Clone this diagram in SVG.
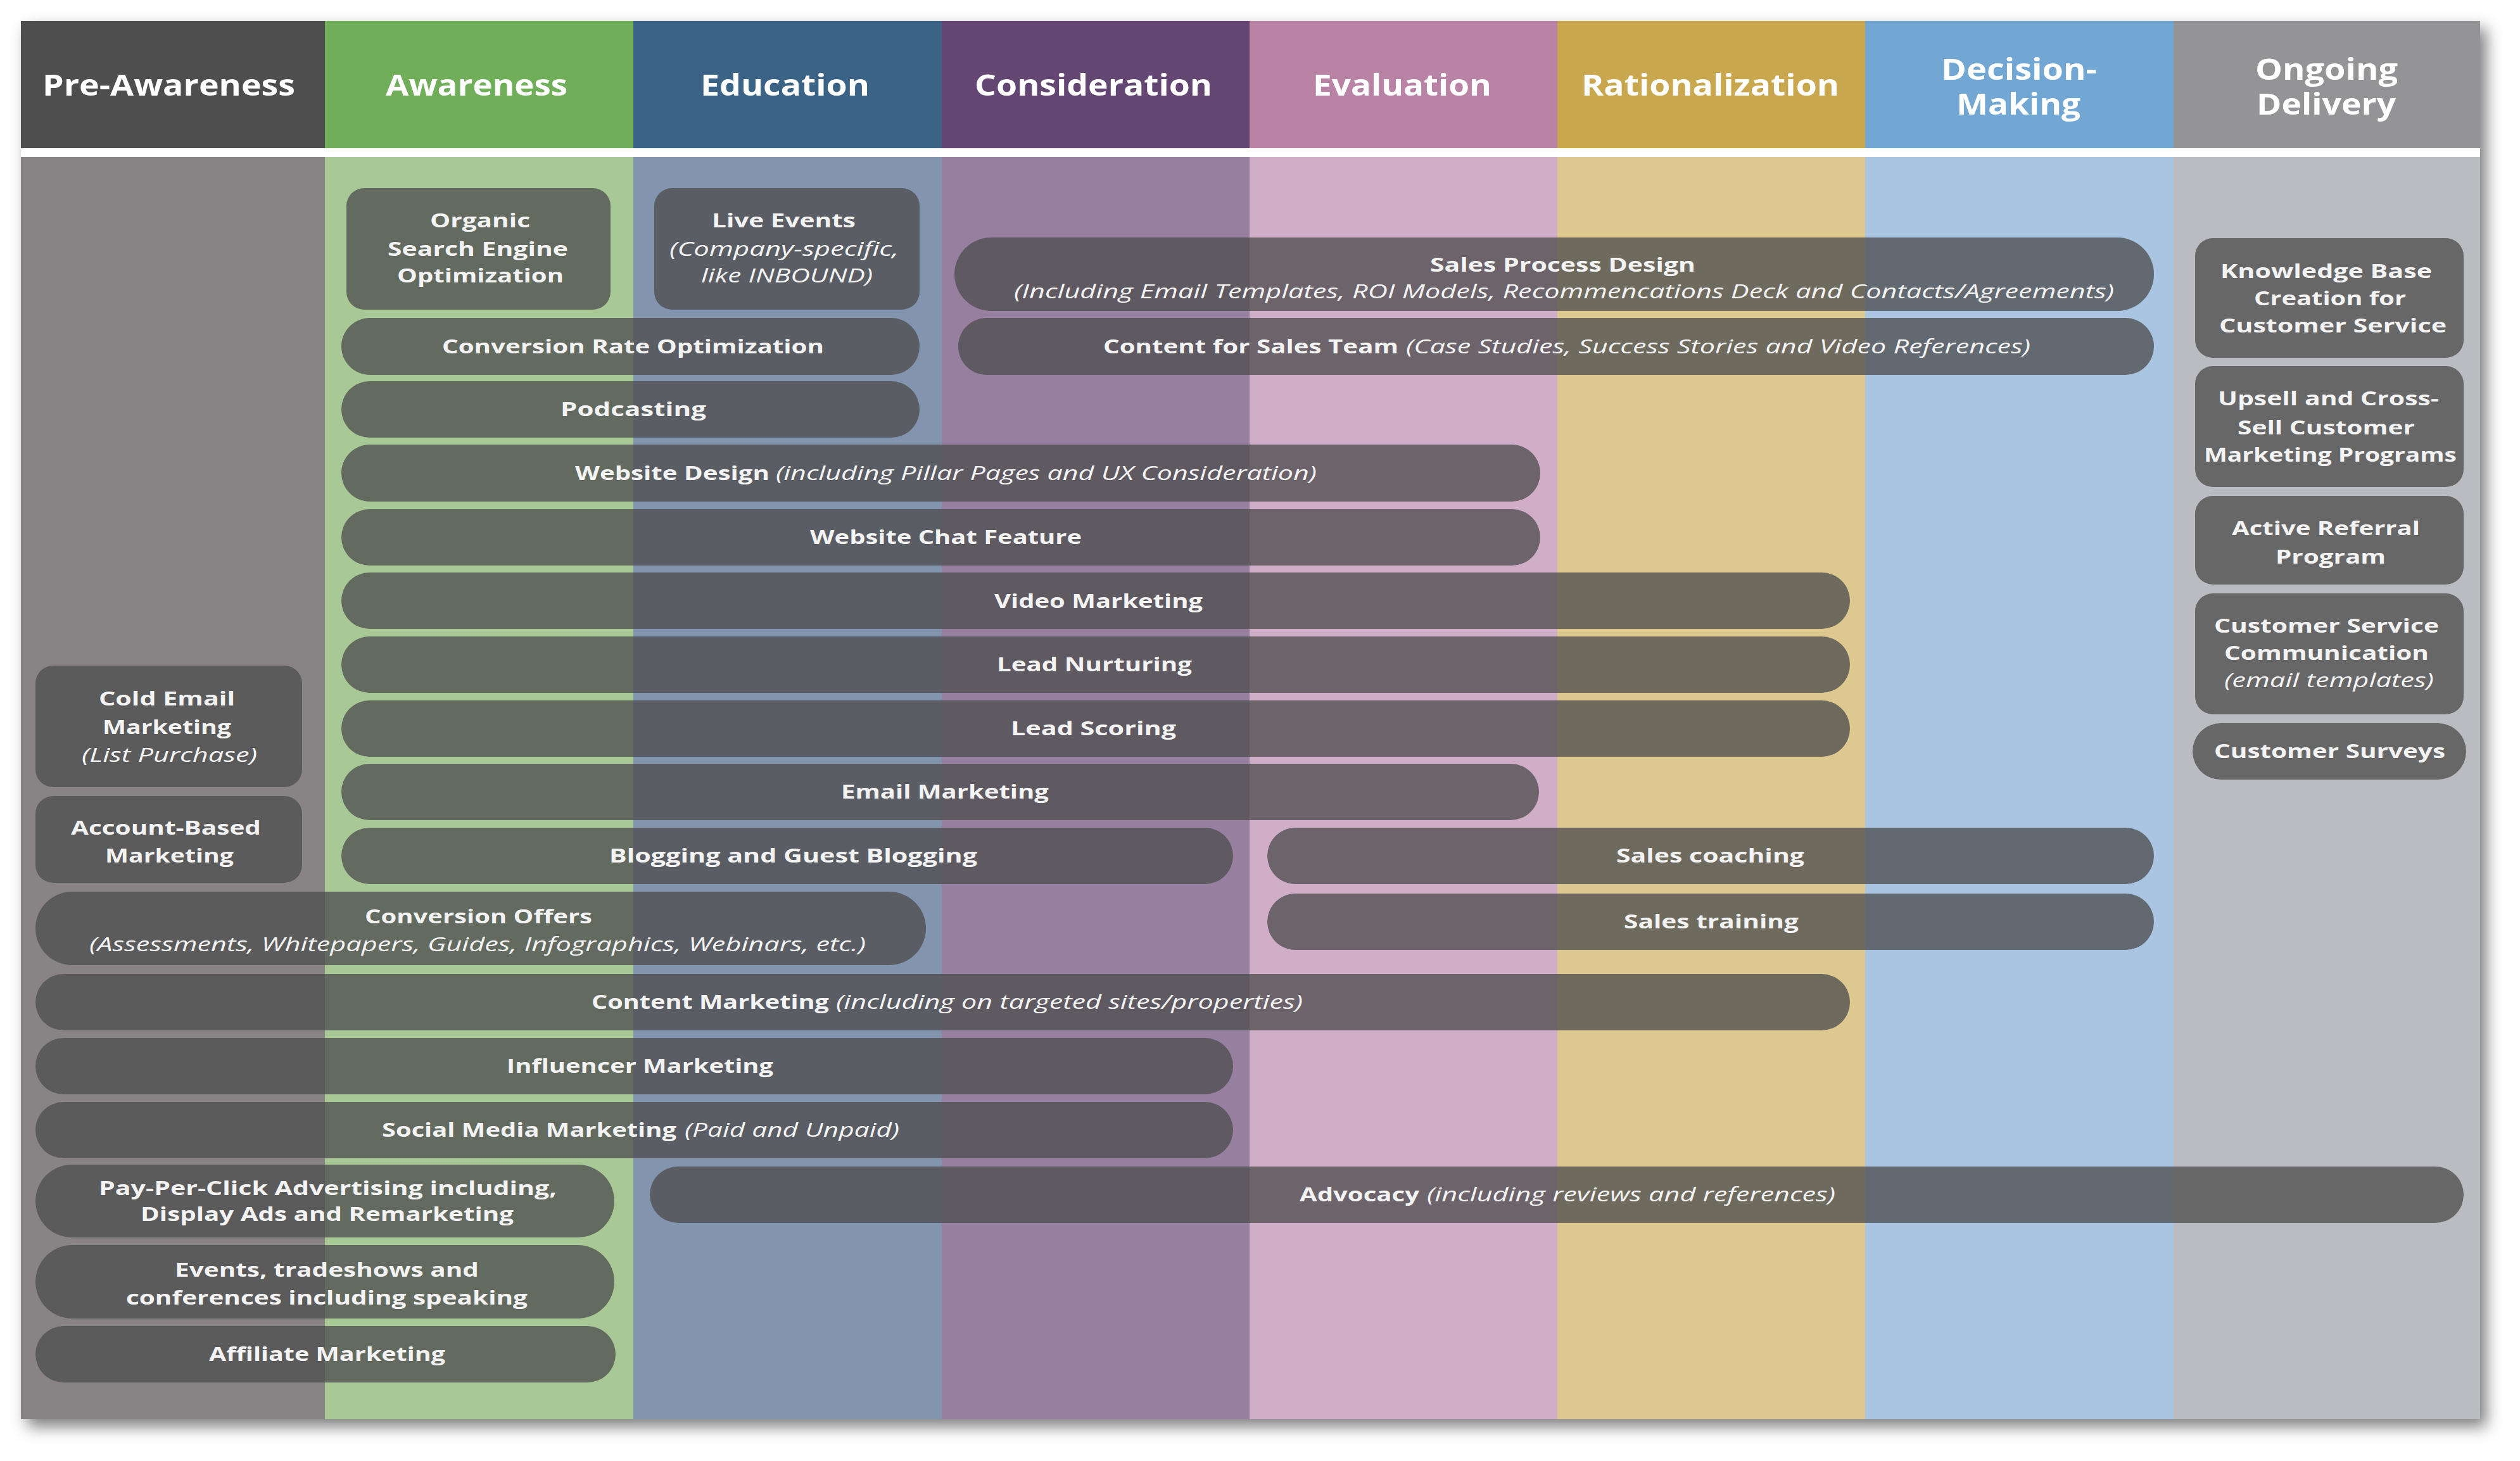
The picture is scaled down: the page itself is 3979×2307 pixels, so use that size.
<svg xmlns="http://www.w3.org/2000/svg" width="3979" height="2307" viewBox="0 0 3979 2307">
<defs>
<filter id="shadow" x="-5%" y="-5%" width="110%" height="110%">
<feDropShadow dx="10" dy="12" stdDeviation="12" flood-color="#000" flood-opacity="0.5"/>
</filter>
</defs>
<style>
.pill{fill:#505050;fill-opacity:0.78}
.h{font-family:"Open Sans","Liberation Sans",sans-serif;font-weight:700;font-size:46px;fill:#ffffff}
.t{font-family:"Open Sans","Liberation Sans",sans-serif;font-weight:700;font-size:31px;fill:#f3f3f3}
.i{font-style:italic;font-weight:400}
</style>
<rect x="0" y="0" width="3979" height="2307" fill="#ffffff"/>
<g id="frame">
<rect x="33" y="33" width="3883" height="2208" fill="#ffffff" filter="url(#shadow)"/>
<rect x="33" y="33" width="480" height="201" fill="#4f4e4f"/>
<rect x="513" y="33" width="487" height="201" fill="#70ae5a"/>
<rect x="1000" y="33" width="487" height="201" fill="#3b6386"/>
<rect x="1487" y="33" width="486" height="201" fill="#644673"/>
<rect x="1973" y="33" width="486" height="201" fill="#b983a6"/>
<rect x="2459" y="33" width="486" height="201" fill="#c9a74f"/>
<rect x="2945" y="33" width="487" height="201" fill="#72a6d3"/>
<rect x="3432" y="33" width="484" height="201" fill="#949497"/>
<rect x="33" y="248" width="480" height="1993" fill="#888485"/>
<rect x="513" y="248" width="487" height="1993" fill="#a8c995"/>
<rect x="1000" y="248" width="487" height="1993" fill="#8294ae"/>
<rect x="1487" y="248" width="486" height="1993" fill="#967f9f"/>
<rect x="1973" y="248" width="486" height="1993" fill="#d1aec7"/>
<rect x="2459" y="248" width="486" height="1993" fill="#ddc890"/>
<rect x="2945" y="248" width="487" height="1993" fill="#a9c5e2"/>
<rect x="3432" y="248" width="484" height="1993" fill="#bbbcc1"/>
</g>
<g id="headers">
<text class="h" x="67" y="151" textLength="399" lengthAdjust="spacingAndGlyphs">Pre-Awareness</text>
<text class="h" x="609" y="151" textLength="287" lengthAdjust="spacingAndGlyphs">Awareness</text>
<text class="h" x="1106" y="151" textLength="267" lengthAdjust="spacingAndGlyphs">Education</text>
<text class="h" x="1539" y="151" textLength="375" lengthAdjust="spacingAndGlyphs">Consideration</text>
<text class="h" x="2073" y="151" textLength="282" lengthAdjust="spacingAndGlyphs">Evaluation</text>
<text class="h" x="2497" y="151" textLength="407" lengthAdjust="spacingAndGlyphs">Rationalization</text>
<text class="h" x="3065" y="126" textLength="246" lengthAdjust="spacingAndGlyphs">Decision-</text>
<text class="h" x="3089" y="181" textLength="196" lengthAdjust="spacingAndGlyphs">Making</text>
<text class="h" x="3561" y="126" textLength="225" lengthAdjust="spacingAndGlyphs">Ongoing</text>
<text class="h" x="3563" y="181" textLength="220" lengthAdjust="spacingAndGlyphs">Delivery</text>
</g>
<g id="sales-process-design">
<rect class="pill" x="1507" y="375" width="1894" height="116" rx="58"/>
<text class="t" x="2258" y="429" textLength="419" lengthAdjust="spacingAndGlyphs">Sales Process Design</text>
<text class="t i" x="1601" y="471" textLength="1737" lengthAdjust="spacingAndGlyphs">(Including Email Templates, ROI Models, Recommencations Deck and Contacts/Agreements)</text>
</g>
<g id="organic-seo">
<rect class="pill" x="547" y="297" width="417" height="192" rx="28"/>
<text class="t" x="679" y="359" textLength="158" lengthAdjust="spacingAndGlyphs">Organic</text>
<text class="t" x="612" y="404" textLength="285" lengthAdjust="spacingAndGlyphs">Search Engine</text>
<text class="t" x="627" y="446" textLength="263" lengthAdjust="spacingAndGlyphs">Optimization</text>
</g>
<g id="live-events">
<rect class="pill" x="1033" y="297" width="419" height="192" rx="28"/>
<text class="t" x="1124" y="359" textLength="227" lengthAdjust="spacingAndGlyphs">Live Events</text>
<text class="t i" x="1057" y="404" textLength="362" lengthAdjust="spacingAndGlyphs">(Company-specific,</text>
<text class="t i" x="1107" y="446" textLength="271" lengthAdjust="spacingAndGlyphs">like INBOUND)</text>
</g>
<g id="conversion-rate-optimization">
<rect class="pill" x="539" y="502" width="913" height="90" rx="45"/>
<text class="t" x="698" y="558" textLength="603" lengthAdjust="spacingAndGlyphs">Conversion Rate Optimization</text>
</g>
<g id="content-for-sales-team">
<rect class="pill" x="1513" y="502" width="1888" height="90" rx="45"/>
<text class="t" y="558"><tspan x="1742" textLength="466" lengthAdjust="spacingAndGlyphs">Content for Sales Team</tspan><tspan class="i" x="2220" textLength="986" lengthAdjust="spacingAndGlyphs">(Case Studies, Success Stories and Video References)</tspan></text>
</g>
<g id="podcasting">
<rect class="pill" x="539" y="602" width="913" height="89" rx="44.5"/>
<text class="t" x="885" y="657" textLength="230" lengthAdjust="spacingAndGlyphs">Podcasting</text>
</g>
<g id="website-design">
<rect class="pill" x="539" y="702" width="1893" height="90" rx="45"/>
<text class="t" y="758"><tspan x="908" textLength="307" lengthAdjust="spacingAndGlyphs">Website Design</tspan><tspan class="i" x="1225" textLength="854" lengthAdjust="spacingAndGlyphs">(including Pillar Pages and UX Consideration)</tspan></text>
</g>
<g id="website-chat-feature">
<rect class="pill" x="539" y="804" width="1893" height="89" rx="44.5"/>
<text class="t" x="1279" y="859" textLength="429" lengthAdjust="spacingAndGlyphs">Website Chat Feature</text>
</g>
<g id="video-marketing">
<rect class="pill" x="539" y="904" width="2382" height="89" rx="44.5"/>
<text class="t" x="1570" y="960" textLength="329" lengthAdjust="spacingAndGlyphs">Video Marketing</text>
</g>
<g id="lead-nurturing">
<rect class="pill" x="539" y="1005" width="2382" height="89" rx="44.5"/>
<text class="t" x="1574" y="1060" textLength="308" lengthAdjust="spacingAndGlyphs">Lead Nurturing</text>
</g>
<g id="lead-scoring">
<rect class="pill" x="539" y="1106" width="2382" height="89" rx="44.5"/>
<text class="t" x="1596" y="1161" textLength="261" lengthAdjust="spacingAndGlyphs">Lead Scoring</text>
</g>
<g id="email-marketing">
<rect class="pill" x="539" y="1206" width="1891" height="89" rx="44.5"/>
<text class="t" x="1328" y="1261" textLength="328" lengthAdjust="spacingAndGlyphs">Email Marketing</text>
</g>
<g id="blogging">
<rect class="pill" x="539" y="1307" width="1408" height="89" rx="44.5"/>
<text class="t" x="962" y="1362" textLength="581" lengthAdjust="spacingAndGlyphs">Blogging and Guest Blogging</text>
</g>
<g id="sales-coaching">
<rect class="pill" x="2001" y="1307" width="1400" height="89" rx="44.5"/>
<text class="t" x="2552" y="1362" textLength="297" lengthAdjust="spacingAndGlyphs">Sales coaching</text>
</g>
<g id="conversion-offers">
<rect class="pill" x="56" y="1408" width="1406" height="116" rx="58"/>
<text class="t" x="576" y="1458" textLength="359" lengthAdjust="spacingAndGlyphs">Conversion Offers</text>
<text class="t i" x="141" y="1502" textLength="1226" lengthAdjust="spacingAndGlyphs">(Assessments, Whitepapers, Guides, Infographics, Webinars, etc.)</text>
</g>
<g id="sales-training">
<rect class="pill" x="2001" y="1411" width="1400" height="89" rx="44.5"/>
<text class="t" x="2564" y="1466" textLength="276" lengthAdjust="spacingAndGlyphs">Sales training</text>
</g>
<g id="content-marketing">
<rect class="pill" x="56" y="1538" width="2865" height="89" rx="44.5"/>
<text class="t" y="1593"><tspan x="934" textLength="375" lengthAdjust="spacingAndGlyphs">Content Marketing</tspan><tspan class="i" x="1320" textLength="737" lengthAdjust="spacingAndGlyphs">(including on targeted sites/properties)</tspan></text>
</g>
<g id="influencer-marketing">
<rect class="pill" x="56" y="1639" width="1891" height="89" rx="44.5"/>
<text class="t" x="800" y="1694" textLength="421" lengthAdjust="spacingAndGlyphs">Influencer Marketing</text>
</g>
<g id="social-media-marketing">
<rect class="pill" x="56" y="1740" width="1891" height="89" rx="44.5"/>
<text class="t" y="1795"><tspan x="603" textLength="465" lengthAdjust="spacingAndGlyphs">Social Media Marketing</tspan><tspan class="i" x="1081" textLength="339" lengthAdjust="spacingAndGlyphs">(Paid and Unpaid)</tspan></text>
</g>
<g id="ppc">
<rect class="pill" x="56" y="1839" width="914" height="115" rx="57.5"/>
<text class="t" x="156" y="1887" textLength="723" lengthAdjust="spacingAndGlyphs">Pay-Per-Click Advertising including,</text>
<text class="t" x="222" y="1928" textLength="589" lengthAdjust="spacingAndGlyphs">Display Ads and Remarketing</text>
</g>
<g id="advocacy">
<rect class="pill" x="1026" y="1842" width="2864" height="89" rx="44.5"/>
<text class="t" y="1897"><tspan x="2052" textLength="189" lengthAdjust="spacingAndGlyphs">Advocacy</tspan><tspan class="i" x="2253" textLength="645" lengthAdjust="spacingAndGlyphs">(including reviews and references)</tspan></text>
</g>
<g id="events">
<rect class="pill" x="56" y="1966" width="914" height="116" rx="58"/>
<text class="t" x="276" y="2016" textLength="480" lengthAdjust="spacingAndGlyphs">Events, tradeshows and</text>
<text class="t" x="199" y="2060" textLength="634" lengthAdjust="spacingAndGlyphs">conferences including speaking</text>
</g>
<g id="affiliate-marketing">
<rect class="pill" x="56" y="2094" width="916" height="89" rx="44.5"/>
<text class="t" x="330" y="2149" textLength="373" lengthAdjust="spacingAndGlyphs">Affiliate Marketing</text>
</g>
<g id="cold-email-marketing">
<rect class="pill" x="56" y="1051" width="421" height="192" rx="28"/>
<text class="t" x="156" y="1114" textLength="215" lengthAdjust="spacingAndGlyphs">Cold Email</text>
<text class="t" x="162" y="1159" textLength="203" lengthAdjust="spacingAndGlyphs">Marketing</text>
<text class="t i" x="129" y="1203" textLength="277" lengthAdjust="spacingAndGlyphs">(List Purchase)</text>
</g>
<g id="account-based-marketing">
<rect class="pill" x="56" y="1257" width="421" height="137" rx="28"/>
<text class="t" x="112" y="1318" textLength="300" lengthAdjust="spacingAndGlyphs">Account-Based</text>
<text class="t" x="166" y="1362" textLength="203" lengthAdjust="spacingAndGlyphs">Marketing</text>
</g>
<g id="knowledge-base">
<rect class="pill" x="3466" y="376" width="424" height="189" rx="28"/>
<text class="t" x="3506" y="439" textLength="334" lengthAdjust="spacingAndGlyphs">Knowledge Base</text>
<text class="t" x="3559" y="482" textLength="240" lengthAdjust="spacingAndGlyphs">Creation for</text>
<text class="t" x="3504" y="525" textLength="359" lengthAdjust="spacingAndGlyphs">Customer Service</text>
</g>
<g id="upsell-cross-sell">
<rect class="pill" x="3466" y="578" width="424" height="191" rx="28"/>
<text class="t" x="3502" y="640" textLength="349" lengthAdjust="spacingAndGlyphs">Upsell and Cross-</text>
<text class="t" x="3533" y="686" textLength="280" lengthAdjust="spacingAndGlyphs">Sell Customer</text>
<text class="t" x="3480" y="729" textLength="399" lengthAdjust="spacingAndGlyphs">Marketing Programs</text>
</g>
<g id="active-referral">
<rect class="pill" x="3466" y="783" width="424" height="140" rx="28"/>
<text class="t" x="3524" y="845" textLength="297" lengthAdjust="spacingAndGlyphs">Active Referral</text>
<text class="t" x="3593" y="890" textLength="174" lengthAdjust="spacingAndGlyphs">Program</text>
</g>
<g id="customer-service-communication">
<rect class="pill" x="3466" y="937" width="424" height="191" rx="28"/>
<text class="t" x="3496" y="999" textLength="355" lengthAdjust="spacingAndGlyphs">Customer Service</text>
<text class="t" x="3512" y="1042" textLength="323" lengthAdjust="spacingAndGlyphs">Communication</text>
<text class="t i" x="3512" y="1085" textLength="331" lengthAdjust="spacingAndGlyphs">(email templates)</text>
</g>
<g id="customer-surveys">
<rect class="pill" x="3462" y="1142" width="432" height="89" rx="44.5"/>
<text class="t" x="3496" y="1197" textLength="365" lengthAdjust="spacingAndGlyphs">Customer Surveys</text>
</g>
</svg>
